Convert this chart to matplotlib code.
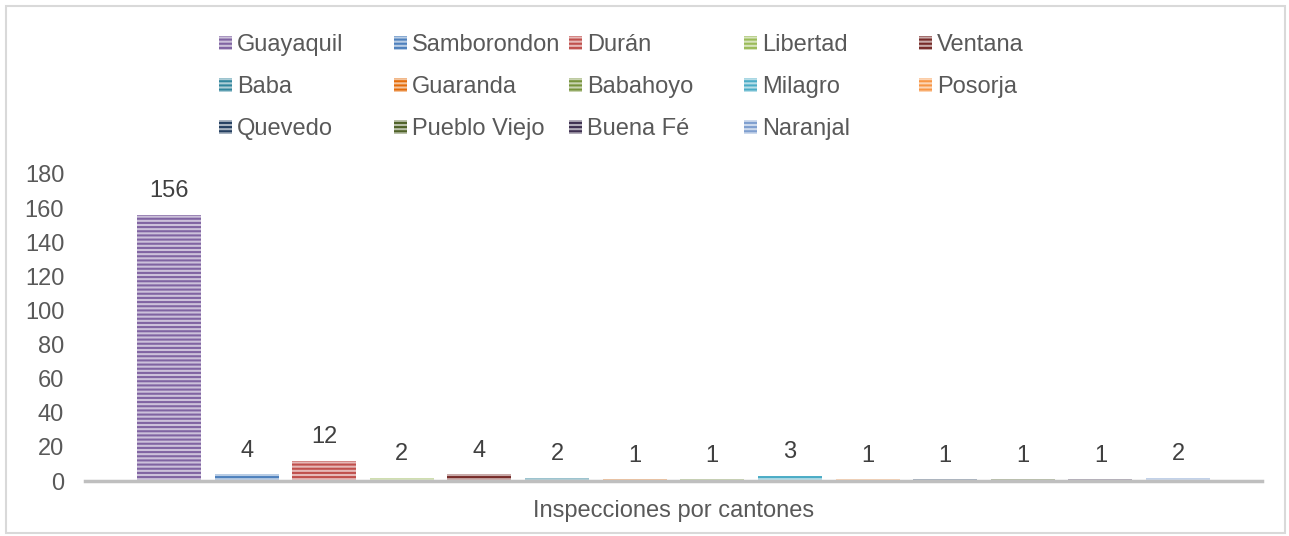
import matplotlib
matplotlib.use("Agg")
import matplotlib.pyplot as plt
import numpy as np
from matplotlib.colors import to_rgb
from matplotlib.patches import Rectangle

cantones = ["Guayaquil", "Samborondon", "Durán", "Libertad", "Ventana",
            "Baba", "Guaranda", "Babahoyo", "Milagro", "Posorja",
            "Quevedo", "Pueblo Viejo", "Buena Fé", "Naranjal"]
valores = [156, 4, 12, 2, 4, 2, 1, 1, 3, 1, 1, 1, 1, 2]
colores = ["#8064A2", "#4F81BD", "#C0504D", "#9BBB59", "#772C2A",
           "#31859C", "#E46C0A", "#77933C", "#4BACC6", "#F79646",
           "#254061", "#4F6228", "#3F3151", "#7F9FCF"]
categoria = "Inspecciones por cantones"
yticks = [0, 20, 40, 60, 80, 100, 120, 140, 160, 180]

plt.rcParams['font.family'] = ['Liberation Sans', 'DejaVu Sans']
plt.rcParams['hatch.linewidth'] = 1.5

W, H = 1289, 536
fig = plt.figure(figsize=(W / 100, H / 100), dpi=100)
fig.patches.append(Rectangle((6 / W, 3 / H), (W - 10) / W, (H - 9) / H,
                             transform=fig.transFigure, fill=False,
                             edgecolor="#d9d9d9", linewidth=1.5))

ax = fig.add_axes([85 / W, (H - 481) / H, (1262 - 85) / W, (481 - 174) / H])

def light(c, f=0.5):
    r = np.array(to_rgb(c))
    return tuple(r + (1 - r) * f)

n = len(cantones)
pos = np.arange(n, dtype=float)
left_px, right_px = 85, 1262
bar_w_px = 64
step_px = (1210 - 137 - bar_w_px) / 13
bw = bar_w_px / step_px

handles = []
for i in range(n):
    b = ax.bar(pos[i], valores[i], width=bw, color=light(colores[i], 0.6),
               edgecolor=colores[i], hatch="----", linewidth=0, label=cantones[i])
    handles.append(b)
    ax.annotate(str(valores[i]), (pos[i], valores[i]), xytext=(0, 9),
                textcoords="offset points", ha="center", va="bottom",
                fontsize=17, color="#404040")

x0 = pos[0] - (137 + bar_w_px / 2 - left_px) / step_px
x1 = pos[0] + (right_px - 137 - bar_w_px / 2) / step_px
ax.set_xlim(x0, x1)
ax.set_ylim(0, 180)
ax.set_yticks(yticks)
ax.set_xticks([])
ax.set_xlabel(categoria, fontsize=17, color="#595959", labelpad=14)
for s in ["top", "right", "left"]:
    ax.spines[s].set_visible(False)
ax.spines["bottom"].set_color("#bfbfbf")
ax.spines["bottom"].set_linewidth(2.5)
ax.tick_params(axis="y", length=0, labelsize=17, labelcolor="#595959", pad=15)

# legend: 5 uniform columns
col_x = [219, 394, 569, 744, 919]
for j in range(5):
    idx = list(range(j, n, 5))
    leg = fig.legend([handles[k] for k in idx], [cantones[k] for k in idx],
                     loc="upper left", bbox_to_anchor=((col_x[j]) / W, (H - 34) / H),
                     frameon=False, fontsize=17,
                     handlelength=0.55, handleheight=0.55,
                     handletextpad=0.2, labelspacing=0.85, borderpad=0, borderaxespad=0,
                     labelcolor="#595959")

fig.savefig("out.png", dpi=100)
